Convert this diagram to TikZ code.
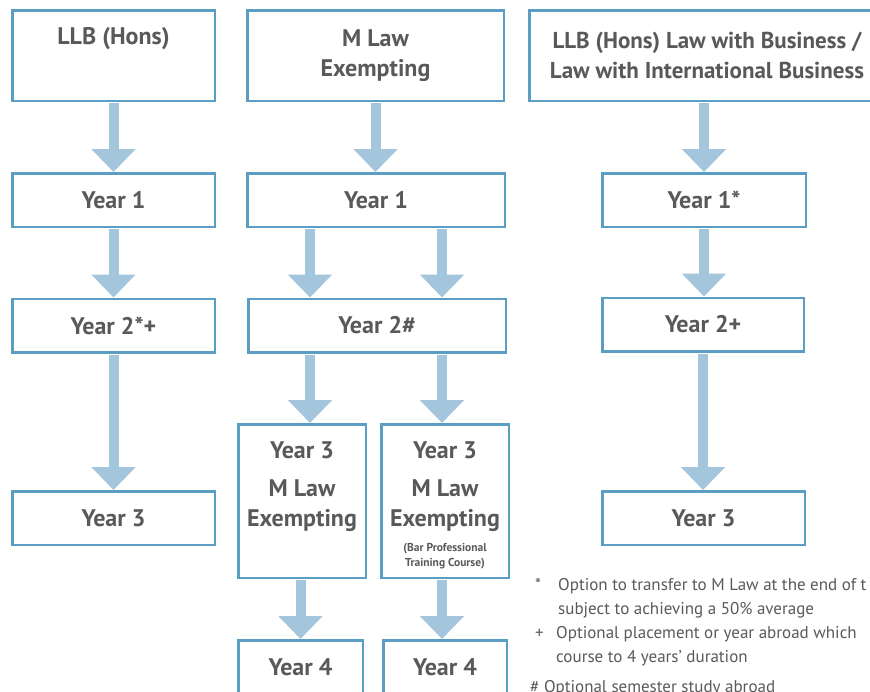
\documentclass[tikz,border=0pt]{standalone}
\usepackage{fontspec}
\setmainfont{PT Sans}
\usetikzlibrary{arrows.meta}
\definecolor{boxline}{HTML}{5A9EC4}
\definecolor{arrowfill}{HTML}{A4C6DC}
\definecolor{txtgrey}{HTML}{58595B}
\begin{document}
\begin{tikzpicture}[x=1pt,y=-1pt,
  yearbox/.style={draw=boxline, line width=2.5pt, fill=white, text=txtgrey, font=\fontsize{24}{30}\selectfont\bfseries, align=center, inner sep=0pt, minimum height=53.5pt},
  boxtext/.style={text=txtgrey, font=\fontsize{24}{30}\selectfont\bfseries, align=center, inner sep=0pt},
  smalltext/.style={text=txtgrey, font=\fontsize{11.5}{15}\selectfont\bfseries, align=center, inner sep=0pt},
  notes/.style={text=txtgrey, font=\fontsize{17}{24}\selectfont, anchor=west, align=left, inner sep=0pt},
  blockarrow/.style={draw=arrowfill, line width=10pt, -{Triangle[width=43pt,length=23pt]}, shorten <=1.25pt}]
\useasboundingbox (0,0) rectangle (870,691);
\clip (0,0) rectangle (870,691);

%col 1
\node[yearbox, minimum width=202.5pt, minimum height=90.5pt] (llb) at (113.5,55.5) {LLB (Hons)\\ \strut};
\node[yearbox, minimum width=202.5pt] (y1a) at (113.5,200) {Year 1};
\node[yearbox, minimum width=202.5pt] (y2a) at (113.5,325.5) {Year 2*+};
\node[yearbox, minimum width=202.5pt] (y3a) at (113.5,518) {Year 3};

%col 2
\node[yearbox, minimum width=256.5pt, minimum height=90.5pt] (mlaw) at (375.5,55.5) {M Law\\Exempting};
\node[yearbox, minimum width=257.5pt] (y1b) at (376,200) {Year 1};
\node[yearbox, minimum width=257.5pt] (y2b) at (377,325.5) {Year 2\#};
\node[yearbox, minimum width=127.5pt, minimum height=153.5pt] (y3l) at (302,501) {};
\node[yearbox, minimum width=127.5pt, minimum height=153.5pt] (y3r) at (445,501) {};
\node[boxtext] (y3ltxt) at (y3l |- 0,487) {Year 3\\[8pt]M Law\\Exempting};
\node[boxtext] (y3rtxt) at (y3r |- 0,487) {Year 3\\[8pt]M Law\\Exempting};
\node[smalltext] (bptc) at (y3r |- 0,556) {(Bar Professional\\Training Course)};
\node[yearbox, minimum width=124.5pt] (y4l) at (300.5,667) {Year 4};
\node[yearbox, minimum width=123.5pt] (y4r) at (445,667) {Year 4};

%col 3
\node[yearbox, minimum width=355.5pt, minimum height=90.5pt, font=\fontsize{23}{30}\selectfont\bfseries] (llbb) at (707,55.5) {LLB (Hons) Law with Business /\\Law with International Business};
\node[yearbox, minimum width=203.5pt] (y1c) at (704,200) {Year 1*};
\node[yearbox, minimum width=201.5pt] (y2c) at (703,324.5) {Year 2+};
\node[yearbox, minimum width=202.5pt] (y3c) at (703.5,518) {Year 3};

%arrows
\coordinate (lft) at (310,0);
\coordinate (rgt) at (442,0);
\draw[blockarrow] (llb.south) -- (y1a.north);
\draw[blockarrow] (y1a.south) -- (y2a.north);
\draw[blockarrow] (y2a.south) -- (y3a.north);
\draw[blockarrow] (mlaw.south) -- (mlaw.south |- y1b.north);
\draw[blockarrow] (y1b.south -| lft) -- (y2b.north -| lft);
\draw[blockarrow] (y1b.south -| rgt) -- (y2b.north -| rgt);
\draw[blockarrow] (y2b.south -| lft) -- (y3l.north -| lft);
\draw[blockarrow] (y2b.south -| rgt) -- (y3r.north -| rgt);
\draw[blockarrow] (y3l.south -| y4l) -- (y4l.north);
\draw[blockarrow] (y3r.south -| rgt) -- (y4r.north -| rgt);
\draw[blockarrow] (llbb.south -| y1c) -- (y1c.north);
\draw[blockarrow] (y1c.south) -- (y1c.south |- y2c.north);
\draw[blockarrow] (y2c.south) -- (y2c.south |- y3c.north);

%footnotes
\node[notes] (note1) at (535,598) {\makebox[23pt][l]{*}Option to transfer to M Law at the end of t\\\hspace*{23pt}subject to achieving a 50\% average};
\node[notes] (note2) at (535,646) {\makebox[21pt][l]{+}Optional placement or year abroad which\\\hspace*{21pt}course to 4 years’ duration};
\node[notes] (note3) at (530,688) {\#\ Optional semester study abroad};
\end{tikzpicture}
\end{document}
